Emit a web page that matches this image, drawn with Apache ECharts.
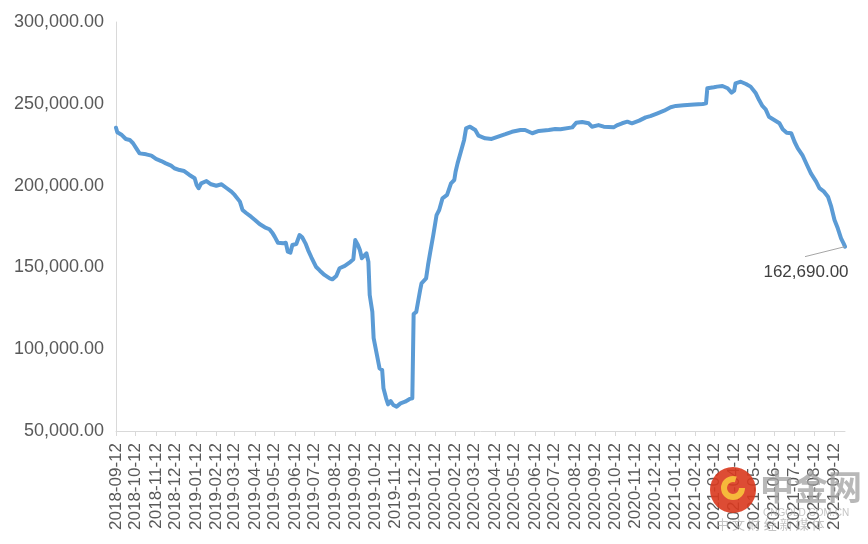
<!DOCTYPE html>
<html><head><meta charset="utf-8">
<script src="https://cdn.jsdelivr.net/npm/echarts@6/dist/echarts.min.js"></script>
<style>html,body{margin:0;padding:0;background:#fff}#c{width:868px;height:544px}</style>
</head><body><div id="c"></div>
<script>
const axisStart = '2018-09-12';
const axisEnd = '2021-09-28';
const sampleDates = [
'2018-09-12','2018-09-14','2018-09-21','2018-09-27','2018-10-03','2018-10-08','2018-10-13','2018-10-18','2018-10-28','2018-11-05',
'2018-11-12','2018-11-20','2018-11-27','2018-12-05','2018-12-10','2018-12-18','2018-12-25','2019-01-02','2019-01-10','2019-01-13',
'2019-01-16','2019-01-20','2019-01-28','2019-02-04','2019-02-12','2019-02-20','2019-02-27','2019-03-07','2019-03-12','2019-03-20',
'2019-03-24','2019-03-30','2019-04-06','2019-04-12','2019-04-19','2019-04-27','2019-05-04','2019-05-09','2019-05-12','2019-05-17',
'2019-05-25','2019-05-29','2019-06-01','2019-06-05','2019-06-08','2019-06-14','2019-06-19','2019-06-23','2019-06-28','2019-07-02',
'2019-07-07','2019-07-14','2019-07-20','2019-07-27','2019-08-04','2019-08-08','2019-08-14','2019-08-19','2019-08-27','2019-09-03',
'2019-09-09','2019-09-10','2019-09-12','2019-09-16','2019-09-19','2019-09-22','2019-09-25','2019-09-29','2019-10-02','2019-10-04',
'2019-10-08','2019-10-10','2019-10-15','2019-10-19','2019-10-23','2019-10-25','2019-10-29','2019-11-01','2019-11-05','2019-11-09',
'2019-11-14','2019-11-20','2019-11-27','2019-12-04','2019-12-08','2019-12-10','2019-12-14','2019-12-17','2019-12-20','2019-12-22',
'2019-12-29','2020-01-01','2020-01-04','2020-01-09','2020-01-14','2020-01-18','2020-01-23','2020-01-30','2020-02-05','2020-02-10',
'2020-02-12','2020-02-15','2020-02-20','2020-02-25','2020-02-28','2020-03-05','2020-03-13','2020-03-18','2020-03-28','2020-04-07',
'2020-04-17','2020-04-28','2020-05-08','2020-05-21','2020-05-28','2020-06-08','2020-06-18','2020-07-03','2020-07-13','2020-07-21',
'2020-08-08','2020-08-14','2020-08-23','2020-09-02','2020-09-07','2020-09-17','2020-09-25','2020-10-10','2020-10-16','2020-10-23',
'2020-10-31','2020-11-07','2020-11-18','2020-11-28','2020-12-05','2020-12-16','2020-12-26','2021-01-05','2021-01-13','2021-01-25',
'2021-02-10','2021-02-23','2021-02-28','2021-03-02','2021-03-12','2021-03-17','2021-03-25','2021-04-02','2021-04-08','2021-04-12',
'2021-04-14','2021-04-22','2021-04-30','2021-05-07','2021-05-15','2021-05-20','2021-05-25','2021-05-30','2021-06-04','2021-06-12',
'2021-06-20','2021-06-25','2021-07-01','2021-07-08','2021-07-13','2021-07-18','2021-07-25','2021-08-01','2021-08-07','2021-08-15',
'2021-08-20','2021-08-27','2021-09-02','2021-09-07','2021-09-12','2021-09-17','2021-09-22','2021-09-26','2021-09-28'
];
const sampleValues = [
235400,232600,230900,228500,227900,225900,222800,219700,219100,218300,
216300,215000,213600,212200,210600,209500,208900,206500,204500,200400,
198400,201400,202800,200800,199900,200800,198700,196300,194300,190200,
185100,183100,181000,179000,176500,174500,173300,170800,168800,165100,
164700,165100,159600,159000,163700,164300,169800,168400,164700,160600,
156200,150400,148000,145400,143300,142700,144700,149500,150900,152900,
155000,155600,166700,163700,160600,155600,154500,158600,153500,133100,
122900,106700,96500,88300,87300,76100,70000,66300,68300,65900,
64900,66900,67900,69600,70000,121500,122800,124000,136200,140300,
143300,151500,158600,169800,182000,185100,192200,194300,201400,203400,
208500,213600,220700,227900,235000,236000,234000,230500,228900,228500,
229900,231400,232900,234000,234000,232000,233400,234000,234600,234400,
235600,238400,238900,238100,236000,237000,236000,235600,237000,238100,
239100,238100,239700,241700,242500,244200,245800,247900,248700,249100,
249500,249900,250300,259500,260100,260500,260900,259500,256800,258000,
262500,263500,262100,260500,256400,252300,248700,246600,242100,240100,
238100,234400,232300,232000,226800,222800,218700,212600,207500,202400,
198400,196300,193200,187100,179000,173900,167800,164500,162690
];
const yMin = 50000, yMax = 300000, yStep = 50000;

function fmt(v){ return Number(v).toLocaleString('en-US',{minimumFractionDigits:2,maximumFractionDigits:2}); }

const categories = [];
{
  const p = s => { const a = s.split('-').map(Number); return Date.UTC(a[0], a[1]-1, a[2]); };
  let t = p(axisStart); const e = p(axisEnd);
  while (t <= e) { categories.push(new Date(t).toISOString().slice(0,10)); t += 86400000; }
}
const lookup = {};
sampleDates.forEach((d,i) => lookup[d] = sampleValues[i]);
const lastDate = sampleDates[sampleDates.length-1];
const lastValue = sampleValues[sampleValues.length-1];
const seriesData = categories.map(d => {
  if (!(d in lookup)) return '-';
  if (d === lastDate) return {
    value: lookup[d],
    label: { show: true, position: 'bottom', formatter: fmt(lookup[d]) }
  };
  return lookup[d];
});
const isTickDate = (i, v) => String(v).slice(8) === '12';

const watermark = [
  { type: 'circle', shape: { cx: 733, cy: 490, r: 23 }, style: { fill: '#d9381e', opacity: 0.9 }, z: 100 },
  { type: 'arc', shape: { cx: 733, cy: 488, r: 9, startAngle: 0, endAngle: Math.PI * 1.6 }, style: { stroke: '#f6b93b', lineWidth: 6, fill: null }, z: 101 },
  { type: 'text', left: 760, top: 470, style: { text: '中金网', fill: 'rgba(160,160,160,0.75)', font: 'bold 34px "Noto Sans CJK SC"' }, z: 100 },
  { type: 'text', left: 763, top: 508, style: { text: 'CNGOLD.COM.CN', fill: 'rgba(170,170,170,0.7)', font: '10px "Liberation Sans"' }, z: 100 },
  { type: 'text', left: 716, top: 518, style: { text: '中 文 财 经 新 媒 体', fill: 'rgba(170,170,170,0.7)', font: '13px "Noto Sans CJK SC"' }, z: 100 }
];

const chart = echarts.init(document.getElementById('c'), null, {renderer:'canvas'});
chart.setOption({
  animation: false,
  backgroundColor: '#ffffff',
  grid: { left: 116, right: 23, top: 22, bottom: 113 },
  xAxis: {
    type: 'category',
    data: categories,
    boundaryGap: false,
    axisLine: { show: true, lineStyle: { color: '#d9d9d9', width: 1 } },
    axisTick: { show: true, interval: isTickDate, length: 5, lineStyle: { color: '#d9d9d9' } },
    axisLabel: {
      interval: isTickDate, rotate: 90, margin: 12,
      color: '#595959', fontSize: 17, fontFamily: 'Liberation Sans'
    },
    splitLine: { show: false }
  },
  yAxis: {
    type: 'value', min: yMin, max: yMax, interval: yStep,
    axisLine: { show: true, lineStyle: { color: '#d9d9d9', width: 1 } },
    axisTick: { show: false },
    splitLine: { show: false },
    axisLabel: { formatter: v => fmt(v), color: '#595959', fontSize: 18, margin: 12, fontFamily: 'Liberation Sans' }
  },
  series: [{
    type: 'line',
    data: seriesData,
    connectNulls: true,
    showSymbol: true,
    showAllSymbol: true,
    symbol: 'circle',
    symbolSize: 0,
    lineStyle: { color: '#5b9bd5', width: 4, join: 'round', cap: 'round' },
    itemStyle: { color: '#5b9bd5' },
    label: { color: '#404040', fontSize: 17, fontFamily: 'Liberation Sans' },
    labelLayout: { dx: -39, dy: 12 }
  }],
  graphic: watermark
});

// leader line from the last data point towards its label
const pt = chart.convertToPixel({ seriesIndex: 0 }, [categories.indexOf(lastDate), lastValue]);
chart.setOption({
  graphic: watermark.concat([{
    type: 'line', z: 50,
    shape: { x1: pt[0], y1: pt[1], x2: pt[0] - 40, y2: pt[1] + 10 },
    style: { stroke: '#a6a6a6', lineWidth: 1 }
  }])
}, { replaceMerge: ['graphic'] });
</script>
</body></html>
